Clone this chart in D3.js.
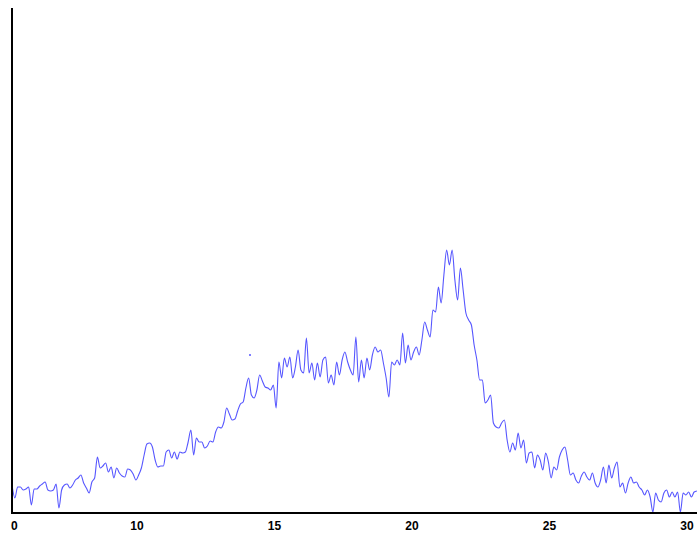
<!DOCTYPE html>
<html>
<head>
<meta charset="utf-8">
<script src="https://cdn.jsdelivr.net/npm/d3@7"></script>
<style>
  html, body { margin: 0; padding: 0; background: #fff; }
  svg { display: block; }
</style>
</head>
<body>
<svg id="chart" width="697" height="533"></svg>
<script>
// Series sampled on a regular grid: x = xStart + i * xStep
const xStart = 5.46;
const xStep = 0.1;
const intensity = [
  13, 7, 12.5, 12.5, 11, 11.5, 12.5, 3.5, 11.5, 11.5,
  13, 14, 15, 11, 10.5, 11, 14, 2, 11, 13.5,
  14, 12, 13.5, 16, 17, 18.5, 14.5, 12, 9.5, 15,
  17, 27.5, 22, 23, 24.5, 20, 22.5, 17, 22, 19.5,
  18, 17.5, 21.5, 21, 19, 16, 18.5, 22, 28.5, 34,
  34.5, 32.5, 26, 22.5, 23, 23, 30, 31, 27, 30,
  26.5, 30, 29.5, 30, 35, 41, 28.5, 37, 35, 35,
  32, 33, 35.5, 35, 40, 42.5, 42, 45, 52, 49,
  46, 46.5, 50.5, 54, 55, 62, 67, 58.5, 57, 61,
  68.5, 65.5, 62.5, 62, 61, 63.5, 52, 75, 67, 77,
  72.5, 77.5, 67, 72.5, 81, 71, 69.5, 87, 69.5, 74.5,
  66, 74.5, 67.5, 76, 77.5, 64.5, 68.5, 63.5, 75, 68.5,
  76, 80, 75, 71, 68.5, 87.5, 65, 76, 67, 77,
  71, 78.5, 82.5, 80, 81, 74.5, 67, 57.5, 75, 73.5,
  76, 73.5, 89.5, 74.5, 83.5, 76, 80, 82.5, 78.5, 86,
  95, 91, 87.5, 101, 100, 112.5, 104.5, 118.5, 131, 123.5,
  131, 116, 106, 122, 111, 99.5, 96, 93.5, 83.5, 76,
  66, 66, 54.5, 56, 58.5, 44.5, 42.5, 42, 44.5, 46,
  36, 30, 34.5, 31, 39.5, 32, 36, 24.5, 29.5, 30,
  22, 28.5, 26, 21, 29.5, 25, 17, 22.5, 21, 27.5,
  31, 32.5, 26, 18.5, 19.5, 16, 14.5, 18, 20, 17.5,
  16, 19.5, 14.5, 12.5, 16, 22.5, 14.5, 23.5, 17, 22,
  25, 12.5, 14.5, 9.5, 14.5, 17.5, 14.5, 15, 12.5, 11,
  8.5, 11, 7.5, 0, 9.5, 6, 5, 9.5, 11, 7.5,
  10, 7.5, 10, 0, 9.5, 8.5, 10, 7.5, 10, 10.5
];
// Isolated reading that sits apart from the trace
const strayX = [14.11];
const strayY = [78.5];

const xDomain = [5.455, 30.364];
const yDomain = [0, 252];
const xTicks = [10, 15, 20, 25, 30];
const originLabel = "0";

const svg = d3.select("#chart");
const plotLeft = 12, plotRight = 697, plotTop = 8, plotBottom = 513;

const x = d3.scaleLinear().domain(xDomain).range([plotLeft, plotRight]);
const y = d3.scaleLinear().domain(yDomain).range([plotBottom - 1, plotTop]);

const points = intensity.map((v, i) => ({ x: xStart + i * xStep, y: v }));

const line = d3.line()
  .curve(d3.curveMonotoneX)
  .x(d => x(d.x))
  .y(d => y(d.y));

const traceColor = "#5656ff";

svg.append("path")
  .datum(points)
  .attr("fill", "none")
  .attr("stroke", traceColor)
  .attr("stroke-width", 1.1)
  .attr("stroke-linejoin", "round")
  .attr("d", line);

svg.selectAll("circle.stray")
  .data(strayX.map((v, i) => ({ x: v, y: strayY[i] })))
  .join("circle")
  .attr("class", "stray")
  .attr("cx", d => x(d.x))
  .attr("cy", d => y(d.y))
  .attr("r", 1)
  .attr("fill", traceColor);

// Axes: plain black lines, bold labels under the x axis
svg.append("line")
  .attr("x1", plotLeft).attr("x2", plotLeft)
  .attr("y1", plotTop).attr("y2", plotBottom + 1)
  .attr("stroke", "#000").attr("stroke-width", 2);

svg.append("line")
  .attr("x1", plotLeft - 1).attr("x2", plotRight)
  .attr("y1", plotBottom).attr("y2", plotBottom)
  .attr("stroke", "#000").attr("stroke-width", 2);

const labelG = svg.append("g")
  .attr("font-family", "Liberation Sans, Arial, sans-serif")
  .attr("font-size", 12)
  .attr("font-weight", "bold")
  .attr("fill", "#000");

labelG.append("text")
  .attr("x", plotLeft - 1)
  .attr("y", 530)
  .attr("text-anchor", "start")
  .text(originLabel);

labelG.selectAll("text.tick")
  .data(xTicks)
  .join("text")
  .attr("class", "tick")
  .attr("x", d => x(d))
  .attr("y", 530)
  .attr("text-anchor", "middle")
  .text(d => d);
</script>
</body>
</html>
